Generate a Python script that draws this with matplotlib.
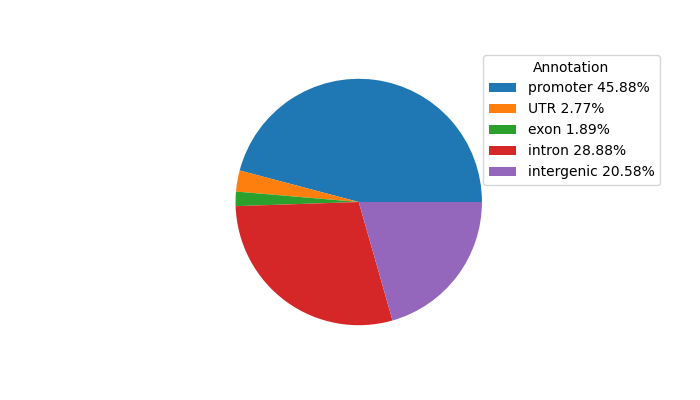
import matplotlib
matplotlib.use("Agg")
import matplotlib.pyplot as plt

# annotation categories and their percentages
categories = ["promoter", "UTR", "exon", "intron", "intergenic"]
percents = [45.88, 2.77, 1.89, 28.88, 20.58]

labels = [f"{c} {p:.2f}%" for c, p in zip(categories, percents)]

fig, ax = plt.subplots(figsize=(7, 4), dpi=100)
wedges, _ = ax.pie(percents)
ax.legend(wedges, labels, title="Annotation", loc="upper right",
          bbox_to_anchor=(1.5, 1))

fig.savefig("out.png")
